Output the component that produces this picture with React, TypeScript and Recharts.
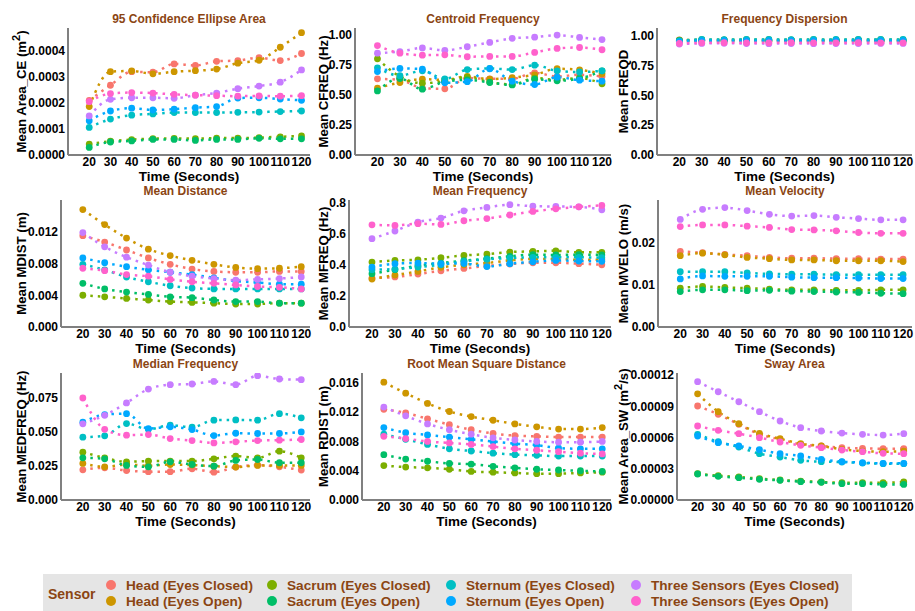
import React from 'react';
import { LineChart, Line, XAxis, YAxis } from 'recharts';

const times = [20, 30, 40, 50, 60, 70, 80, 90, 100, 110, 120];
const sensors = [
  'Head (Eyes Closed)', 'Head (Eyes Open)',
  'Sacrum (Eyes Closed)', 'Sacrum (Eyes Open)',
  'Sternum (Eyes Closed)', 'Sternum (Eyes Open)',
  'Three Sensors (Eyes Closed)', 'Three Sensors (Eyes Open)',
];
const colors = ['#F8766D', '#CD9600', '#7CAE00', '#00BE67', '#00BFC4', '#00A9FF', '#C77CFF', '#FF61CC'];

// series order: Head C, Head O, Sacrum C, Sacrum O, Sternum C, Sternum O, Three C, Three O
const ceArea = [
  [2.10e-4, 2.68e-4, 3.20e-4, 3.18e-4, 3.50e-4, 3.44e-4, 3.60e-4, 3.63e-4, 3.74e-4, 3.63e-4, 3.90e-4],
  [1.86e-4, 3.20e-4, 3.23e-4, 3.12e-4, 3.20e-4, 3.24e-4, 3.30e-4, 3.53e-4, 3.64e-4, 4.14e-4, 4.70e-4],
  [0.42e-4, 0.53e-4, 0.59e-4, 0.63e-4, 0.64e-4, 0.63e-4, 0.65e-4, 0.65e-4, 0.67e-4, 0.70e-4, 0.73e-4],
  [0.29e-4, 0.50e-4, 0.54e-4, 0.60e-4, 0.60e-4, 0.56e-4, 0.60e-4, 0.60e-4, 0.64e-4, 0.62e-4, 0.62e-4],
  [1.06e-4, 1.38e-4, 1.53e-4, 1.58e-4, 1.63e-4, 1.63e-4, 1.63e-4, 1.64e-4, 1.65e-4, 1.67e-4, 1.69e-4],
  [1.32e-4, 1.69e-4, 1.80e-4, 1.73e-4, 1.76e-4, 1.82e-4, 1.86e-4, 2.19e-4, 2.20e-4, 2.15e-4, 2.10e-4],
  [1.50e-4, 2.14e-4, 2.20e-4, 2.20e-4, 2.18e-4, 2.30e-4, 2.38e-4, 2.55e-4, 2.65e-4, 2.80e-4, 3.27e-4],
  [2.05e-4, 2.36e-4, 2.40e-4, 2.38e-4, 2.33e-4, 2.30e-4, 2.28e-4, 2.26e-4, 2.27e-4, 2.26e-4, 2.28e-4],
];
const cfreq = [
  [0.633, 0.625, 0.556, 0.55, 0.64, 0.633, 0.633, 0.683, 0.653, 0.667, 0.653],
  [0.556, 0.603, 0.63, 0.625, 0.653, 0.63, 0.644, 0.667, 0.717, 0.708, 0.675],
  [0.80, 0.653, 0.597, 0.614, 0.647, 0.606, 0.586, 0.64, 0.625, 0.64, 0.592],
  [0.533, 0.636, 0.547, 0.61, 0.625, 0.603, 0.583, 0.63, 0.617, 0.636, 0.70],
  [0.725, 0.66, 0.70, 0.633, 0.71, 0.72, 0.71, 0.747, 0.70, 0.69, 0.70],
  [0.694, 0.72, 0.714, 0.60, 0.61, 0.717, 0.614, 0.586, 0.647, 0.622, 0.614],
  [0.847, 0.86, 0.89, 0.87, 0.90, 0.936, 0.97, 0.98, 0.997, 0.978, 0.96],
  [0.91, 0.847, 0.83, 0.833, 0.817, 0.82, 0.82, 0.853, 0.886, 0.894, 0.875],
];
const freqd = [
  [0.965, 0.96, 0.962, 0.96, 0.958, 0.96, 0.958, 0.96, 0.958, 0.96, 0.958],
  [0.955, 0.955, 0.952, 0.955, 0.953, 0.955, 0.952, 0.954, 0.953, 0.954, 0.953],
  [0.962, 0.966, 0.965, 0.966, 0.966, 0.965, 0.966, 0.965, 0.966, 0.966, 0.965],
  [0.958, 0.962, 0.962, 0.963, 0.962, 0.962, 0.962, 0.962, 0.962, 0.963, 0.962],
  [0.955, 0.968, 0.967, 0.968, 0.968, 0.967, 0.968, 0.968, 0.968, 0.968, 0.968],
  [0.95, 0.958, 0.957, 0.958, 0.957, 0.958, 0.957, 0.957, 0.958, 0.957, 0.957],
  [0.93, 0.935, 0.936, 0.934, 0.933, 0.934, 0.933, 0.934, 0.934, 0.935, 0.935],
  [0.935, 0.94, 0.941, 0.94, 0.94, 0.941, 0.94, 0.94, 0.941, 0.94, 0.94],
];
const mdist = [
  [0.0115, 0.0107, 0.0097, 0.0087, 0.0079, 0.0073, 0.0070, 0.0069, 0.0069, 0.0070, 0.0070],
  [0.0148, 0.0129, 0.0112, 0.0098, 0.0090, 0.0084, 0.0079, 0.0075, 0.00735, 0.0074, 0.0076],
  [0.0040, 0.0038, 0.0036, 0.0034, 0.0032, 0.0031, 0.0030, 0.0029, 0.0029, 0.0030, 0.0030],
  [0.0055, 0.0048, 0.0044, 0.0041, 0.0038, 0.0037, 0.0034, 0.0032, 0.0032, 0.0030, 0.0030],
  [0.0079, 0.0072, 0.0063, 0.0057, 0.0052, 0.0049, 0.0048, 0.0048, 0.0048, 0.0048, 0.0048],
  [0.0087, 0.0081, 0.0076, 0.0072, 0.0069, 0.0066, 0.0062, 0.0058, 0.0056, 0.0054, 0.0054],
  [0.0119, 0.0101, 0.0088, 0.0078, 0.0069, 0.0064, 0.0061, 0.0059, 0.0060, 0.0061, 0.0063],
  [0.0074, 0.0071, 0.0066, 0.0064, 0.0060, 0.0057, 0.0055, 0.0053, 0.0051, 0.0050, 0.0048],
];
const mfreq = [
  [0.316, 0.323, 0.342, 0.363, 0.378, 0.394, 0.406, 0.415, 0.415, 0.409, 0.402],
  [0.31, 0.335, 0.359, 0.385, 0.402, 0.413, 0.43, 0.439, 0.439, 0.434, 0.434],
  [0.419, 0.43, 0.434, 0.447, 0.462, 0.471, 0.484, 0.488, 0.492, 0.482, 0.482],
  [0.344, 0.37, 0.396, 0.413, 0.428, 0.441, 0.456, 0.467, 0.465, 0.467, 0.465],
  [0.37, 0.374, 0.387, 0.402, 0.424, 0.437, 0.445, 0.45, 0.45, 0.45, 0.447],
  [0.387, 0.409, 0.413, 0.409, 0.41, 0.39, 0.409, 0.421, 0.43, 0.426, 0.424],
  [0.57, 0.62, 0.677, 0.703, 0.75, 0.772, 0.79, 0.78, 0.778, 0.776, 0.757],
  [0.66, 0.656, 0.667, 0.662, 0.686, 0.70, 0.723, 0.746, 0.763, 0.776, 0.785],
];
const mvelo = [
  [0.0179, 0.0176, 0.0172, 0.0169, 0.0165, 0.0163, 0.0163, 0.0162, 0.0162, 0.0161, 0.0161],
  [0.0169, 0.0175, 0.0171, 0.0165, 0.0162, 0.0159, 0.0159, 0.0157, 0.0157, 0.0157, 0.0155],
  [0.0092, 0.0096, 0.0094, 0.0092, 0.0090, 0.0088, 0.0088, 0.0087, 0.0087, 0.0088, 0.0088],
  [0.0084, 0.0088, 0.0088, 0.0086, 0.0087, 0.0085, 0.0084, 0.0083, 0.0082, 0.0080, 0.0079],
  [0.0131, 0.0131, 0.0131, 0.0128, 0.0126, 0.0125, 0.0125, 0.0124, 0.0124, 0.0124, 0.0124],
  [0.0114, 0.0121, 0.0120, 0.0120, 0.0120, 0.0118, 0.0117, 0.0117, 0.0116, 0.0115, 0.0115],
  [0.0255, 0.0279, 0.0283, 0.0276, 0.0267, 0.0263, 0.0264, 0.0260, 0.0257, 0.0254, 0.0254],
  [0.0238, 0.0242, 0.0242, 0.0239, 0.0236, 0.0231, 0.0230, 0.0228, 0.0224, 0.0222, 0.0222],
];
const medfreq = [
  [0.0222, 0.0237, 0.0217, 0.0208, 0.0208, 0.0230, 0.0205, 0.0242, 0.0257, 0.0244, 0.0220],
  [0.0269, 0.0244, 0.0261, 0.0252, 0.0261, 0.0257, 0.0249, 0.0242, 0.0254, 0.0254, 0.0254],
  [0.0352, 0.0310, 0.0281, 0.0286, 0.0286, 0.0286, 0.0303, 0.0323, 0.0310, 0.0359, 0.0310],
  [0.0310, 0.0303, 0.0254, 0.0244, 0.0281, 0.0261, 0.0249, 0.0291, 0.0298, 0.0274, 0.0274],
  [0.0462, 0.0472, 0.0562, 0.0520, 0.0550, 0.0535, 0.0587, 0.0589, 0.0587, 0.0635, 0.0604],
  [0.0572, 0.0628, 0.0635, 0.0525, 0.0538, 0.0518, 0.0474, 0.0491, 0.0489, 0.0489, 0.0501],
  [0.0560, 0.0623, 0.0714, 0.0816, 0.0848, 0.0853, 0.0872, 0.0848, 0.0914, 0.0890, 0.0885],
  [0.0750, 0.0520, 0.0477, 0.0481, 0.0452, 0.0437, 0.0420, 0.0428, 0.0437, 0.0440, 0.0445],
];
const rdist = [
  [0.0124, 0.0119, 0.0111, 0.0103, 0.0096, 0.0091, 0.0088, 0.0087, 0.0086, 0.0086, 0.0086],
  [0.0161, 0.0146, 0.0132, 0.0121, 0.0114, 0.0109, 0.0104, 0.0100, 0.0097, 0.0097, 0.0099],
  [0.0047, 0.0045, 0.0044, 0.0042, 0.0039, 0.0038, 0.0037, 0.0036, 0.0036, 0.0037, 0.0038],
  [0.0062, 0.0056, 0.0053, 0.0050, 0.0049, 0.0046, 0.0044, 0.0042, 0.0041, 0.0040, 0.0039],
  [0.0090, 0.0083, 0.0076, 0.0070, 0.0067, 0.0064, 0.0062, 0.0061, 0.0060, 0.0060, 0.0060],
  [0.0099, 0.0092, 0.0089, 0.0086, 0.0083, 0.0080, 0.0077, 0.0075, 0.0071, 0.0070, 0.0070],
  [0.0127, 0.0115, 0.0104, 0.0096, 0.0090, 0.0085, 0.0082, 0.0080, 0.0079, 0.0079, 0.0080],
  [0.0087, 0.0084, 0.0080, 0.0078, 0.0076, 0.0073, 0.0070, 0.0068, 0.0066, 0.0064, 0.0063],
];
const swayArea = [
  [9.03e-5, 8.23e-5, 7.27e-5, 6.31e-5, 5.83e-5, 5.35e-5, 5.19e-5, 5.03e-5, 4.96e-5, 4.93e-5, 4.93e-5],
  [10.2e-5, 8.48e-5, 7.33e-5, 6.40e-5, 5.89e-5, 5.41e-5, 5.19e-5, 4.87e-5, 4.70e-5, 4.64e-5, 4.70e-5],
  [2.53e-5, 2.34e-5, 2.21e-5, 2.05e-5, 1.92e-5, 1.82e-5, 1.73e-5, 1.66e-5, 1.66e-5, 1.66e-5, 1.73e-5],
  [2.50e-5, 2.27e-5, 2.14e-5, 1.99e-5, 1.89e-5, 1.76e-5, 1.70e-5, 1.57e-5, 1.57e-5, 1.50e-5, 1.50e-5],
  [6.31e-5, 5.60e-5, 5.09e-5, 4.45e-5, 4.13e-5, 3.81e-5, 3.68e-5, 3.65e-5, 3.55e-5, 3.49e-5, 3.49e-5],
  [6.15e-5, 5.51e-5, 5.19e-5, 4.83e-5, 4.45e-5, 4.23e-5, 3.91e-5, 3.68e-5, 3.59e-5, 3.52e-5, 3.52e-5],
  [11.37e-5, 10.4e-5, 9.44e-5, 8.48e-5, 7.59e-5, 6.95e-5, 6.63e-5, 6.43e-5, 6.31e-5, 6.24e-5, 6.37e-5],
  [7.11e-5, 6.69e-5, 6.37e-5, 5.99e-5, 5.57e-5, 5.25e-5, 5.03e-5, 4.80e-5, 4.64e-5, 4.48e-5, 4.45e-5],
];

const panels = [
  { title: '95 Confidence Ellipse Area', yl: ['Mean Area_CE (m', '2', ')'], values: ceArea, domain: [0, 0.000488], ticks: [0, 0.0001, 0.0002, 0.0003, 0.0004], digits: 4 },
  { title: 'Centroid Frequency', yl: ['Mean CFREQ (Hz)'], values: cfreq, domain: [0, 1.056], ticks: [0, 0.25, 0.5, 0.75, 1], digits: 2 },
  { title: 'Frequency Dispersion', yl: ['Mean FREQD'], values: freqd, domain: [0, 1.064], ticks: [0, 0.25, 0.5, 0.75, 1], digits: 2 },
  { title: 'Mean Distance', yl: ['Mean MDIST (m)'], values: mdist, domain: [0, 0.016], ticks: [0, 0.004, 0.008, 0.012], digits: 3 },
  { title: 'Mean Frequency', yl: ['Mean MFREQ (Hz)'], values: mfreq, domain: [0, 0.82], ticks: [0, 0.2, 0.4, 0.6, 0.8], digits: 1 },
  { title: 'Mean Velocity', yl: ['Mean MVELO (m/s)'], values: mvelo, domain: [0, 0.0301], ticks: [0, 0.01, 0.02], digits: 2 },
  { title: 'Median Frequency', yl: ['Mean MEDFREQ (Hz)'], values: medfreq, domain: [0, 0.0934], ticks: [0, 0.025, 0.05, 0.075], digits: 3 },
  { title: 'Root Mean Square Distance', yl: ['Mean RDIST (m)'], values: rdist, domain: [0, 0.01736], ticks: [0, 0.004, 0.008, 0.012, 0.016], digits: 3 },
  { title: 'Sway Area', yl: ['Mean Area_SW (m', '2', '/s)'], values: swayArea, domain: [0, 0.000122], ticks: [0, 0.00003, 0.00006, 0.00009, 0.00012], digits: 5 },
];

// layout: plot-area left edge of each panel, right edge & y-label x of each column, rows
const PLOT_LEFT = [68, 355, 657, 61, 349, 658, 61, 362, 677];
const COLS = [
  { right: 310, labelX: 21 },
  { right: 611, labelX: 323 },
  { right: 912, labelX: 623.5 },
];
const ROWS = [
  { top: 28, bottom: 155 },
  { top: 200, bottom: 327 },
  { top: 373, bottom: 500 },
];

const FONT = '"Liberation Sans", Arial, Helvetica, sans-serif';
const BROWN = '#8B4513';
const YW = 70;
const MT = 12;
const MR = 3;
const XH = 32;

function Panel({ p, idx }: any) {
  const c = COLS[idx % 3];
  const r = ROWS[Math.floor(idx / 3)];
  const left = PLOT_LEFT[idx];
  const x0 = left - YW;
  const y0 = r.top - MT;
  const W = c.right - left + YW + MR;
  const H = r.bottom - r.top + MT + XH;
  const data = times.map((t, i) => {
    const o: any = { t };
    p.values.forEach((s: number[], k: number) => { o['s' + k] = s[i]; });
    return o;
  });
  const plotCx = (c.right - left) / 2 + YW;
  const plotCy = MT + (r.bottom - r.top) / 2;
  const lx = c.labelX - x0;
  const axisY = r.bottom - y0;
  return (
    <div style={{ position: 'absolute', left: x0, top: y0, width: W, height: H }}>
      <LineChart width={W} height={H} data={data} margin={{ top: MT, right: MR, left: 0, bottom: 0 }}>
        <XAxis
          dataKey="t"
          type="number"
          domain={[10, 124]}
          ticks={times}
          interval={0}
          allowDataOverflow
          tickLine={false}
          tickSize={1}
          tickMargin={1}
          height={XH}
          axisLine={{ stroke: '#808080', strokeWidth: 2 }}
          tick={{ fill: '#000', fontSize: 12, fontWeight: 700, fontFamily: FONT }}
          label={() => (
            <text x={plotCx} y={axisY + 26} textAnchor="middle" fontSize={13.5} fontWeight={700} fontFamily={FONT} fill="#000">
              Time (Seconds)
            </text>
          )}
        />
        <YAxis
          type="number"
          domain={p.domain}
          ticks={p.ticks}
          allowDataOverflow
          interval={0}
          width={YW}
          tickLine={false}
          tickSize={2}
          tickMargin={1}
          axisLine={{ stroke: '#808080', strokeWidth: 2 }}
          tick={{ fill: '#000', fontSize: 12, fontWeight: 700, fontFamily: FONT }}
          tickFormatter={(v: number) => v.toFixed(p.digits)}
          label={() => (
            <text
              x={lx}
              y={plotCy}
              dy="0.36em"
              transform={`rotate(-90 ${lx} ${plotCy})`}
              textAnchor="middle"
              fontSize={13.2}
              fontWeight={700}
              fontFamily={FONT}
              fill="#000"
            >
              {p.yl[0]}
              {p.yl.length > 1 ? <tspan dy="-6" fontSize={11}>{p.yl[1]}</tspan> : null}
              {p.yl.length > 1 ? <tspan dy="6">{p.yl[2]}</tspan> : null}
            </text>
          )}
        />
        {p.values.map((_: number[], k: number) => (
          <Line
            key={k}
            dataKey={'s' + k}
            name={sensors[k]}
            type="monotone"
            stroke={colors[k]}
            strokeWidth={2.5}
            strokeDasharray="2.5 5"
            dot={{ r: 3.4, fill: colors[k], stroke: 'none', strokeWidth: 0 }}
            activeDot={false}
            isAnimationActive={false}
          />
        ))}
      </LineChart>
    </div>
  );
}

const LEG_COLS = [111, 272, 451, 636];
const LEG_ROWS = [585, 601];

export default function App() {
  return (
    <div style={{ position: 'absolute', left: 0, top: 0, width: 915, height: 611, background: '#fff', fontFamily: FONT, overflow: 'hidden' }}>
      {panels.map((p, i) => (
        <Panel key={i} p={p} idx={i} />
      ))}
      {panels.map((p, i) => {
        const c = COLS[i % 3];
        const r = ROWS[Math.floor(i / 3)];
        const left = PLOT_LEFT[i];
        return (
          <div
            key={'t' + i}
            style={{
              position: 'absolute',
              left,
              width: c.right - left,
              top: r.top - 16,
              height: 14,
              lineHeight: '14px',
              textAlign: 'center',
              fontSize: 12,
              fontWeight: 700,
              color: BROWN,
              whiteSpace: 'nowrap',
            }}
          >
            {p.title}
          </div>
        );
      })}
      <div style={{ position: 'absolute', left: 43, top: 574, width: 809, height: 40, background: '#E5E5E5' }} />
      <div style={{ position: 'absolute', left: 48, top: 586, height: 16, lineHeight: '16px', fontSize: 14, fontWeight: 700, color: BROWN }}>
        Sensor
      </div>
      {sensors.map((s, k) => {
        const cx = LEG_COLS[Math.floor(k / 2)];
        const cy = LEG_ROWS[k % 2];
        return (
          <React.Fragment key={'l' + k}>
            <div style={{ position: 'absolute', left: cx - 5, top: cy - 5, width: 10, height: 10, borderRadius: 5, background: colors[k] }} />
            <div style={{ position: 'absolute', left: cx + 15, top: cy - 7.5, height: 15, lineHeight: '15px', fontSize: 13.6, fontWeight: 700, color: BROWN, whiteSpace: 'nowrap' }}>
              {s}
            </div>
          </React.Fragment>
        );
      })}
    </div>
  );
}
